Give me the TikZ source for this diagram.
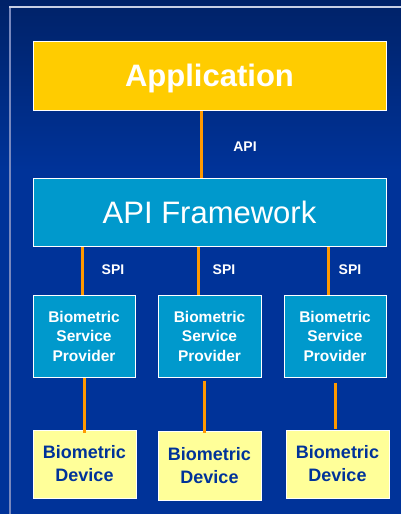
\documentclass[tikz,border=0pt]{standalone}
\usepackage{fontspec}
\setmainfont{Liberation Sans}
\definecolor{bgtop}{RGB}{0,34,104}
\definecolor{bgbot}{RGB}{0,51,153}
\definecolor{appyellow}{RGB}{255,204,0}
\definecolor{boxblue}{RGB}{0,153,204}
\definecolor{devyellow}{RGB}{255,255,153}
\definecolor{devtext}{RGB}{0,51,153}
\definecolor{conn}{RGB}{255,153,0}
\definecolor{frameh}{RGB}{200,208,228}
\definecolor{framev}{RGB}{120,136,190}
\tikzset{
  boxbase/.style={draw=white, line width=1pt, inner sep=0pt, align=center},
  appbox/.style={boxbase, fill=appyellow, minimum width=353pt, minimum height=69pt,
     font=\fontsize{31}{36}\selectfont\bfseries, text=white, text depth=0pt},
  fwbox/.style={boxbase, fill=boxblue, minimum width=353pt, minimum height=68pt,
     font=\fontsize{31}{36}\selectfont, text=white},
  bspbox/.style={boxbase, fill=boxblue, minimum width=102pt, minimum height=82pt,
     font=\fontsize{15.5}{19.5}\selectfont\bfseries, text=white},
  devbox/.style={boxbase, fill=devyellow, minimum width=103pt, minimum height=68pt,
     font=\fontsize{18}{23}\selectfont\bfseries, text=devtext},
  lbl/.style={font=\fontsize{14}{16}\selectfont\bfseries, text=white, inner sep=0pt},
  link/.style={draw=conn, line width=3pt}
}
\begin{document}
\begin{tikzpicture}[x=1pt,y=-1pt]
\useasboundingbox (0,0) rectangle (401,514);
\shade[top color=bgtop, bottom color=bgbot] (0,0) rectangle (401,170);
\fill[bgbot] (0,169.5) rectangle (401,514);
\draw[framev, line width=2pt] (10,7) -- (10,514);
\draw[frameh, line width=1.5pt] (9,7) -- (401,7);

\node[appbox] (app) at (209.5,75.5) {Application};
\node[fwbox] (api) at (209.5,212) {API Framework};

\node[bspbox] (bsp1) at (84,336) {Biometric\\Service\\Provider};
\node[bspbox, minimum width=103pt] (bsp2) at (209.5,336) {Biometric\\Service\\Provider};
\node[bspbox] (bsp3) at (335,336) {Biometric\\Service\\Provider};

\node[devbox] (dev1) at (84.5,464) {Biometric\\Device};
\node[devbox, minimum height=69pt] (dev2) at (209.5,465.5) {Biometric\\Device};
\node[devbox] (dev3) at (337.5,464) {Biometric\\Device};

\coordinate (c0) at (201,0);
\coordinate (c1) at (82,0);
\coordinate (c2) at (198,0);
\coordinate (c3) at (328,0);
\coordinate (d1) at (84,0);
\coordinate (d2) at (204,0);
\coordinate (d3) at (335,0);

\draw[link] (app.south -| c0) -- (api.north -| c0);
\draw[link] (api.south -| c1) -- (bsp1.north -| c1);
\draw[link] (api.south -| c2) -- (bsp2.north -| c2);
\draw[link] (api.south -| c3) -- (bsp3.north -| c3);
\draw[link] (bsp1.south -| d1) -- ([yshift=-3pt]dev1.north -| d1);
\draw[link] ([yshift=-3pt]bsp2.south -| d2) -- ([yshift=-2pt]dev2.north -| d2);
\draw[link] ([yshift=-5pt]bsp3.south -| d3) -- ([yshift=1pt]dev3.north -| d3);

\node[lbl] (lapi) at (245,147) {API};
\node[lbl] (ls1) at (113,270) {SPI};
\node[lbl] (ls2) at (224,270) {SPI};
\node[lbl] (ls3) at (350,270) {SPI};
\end{tikzpicture}
\end{document}
